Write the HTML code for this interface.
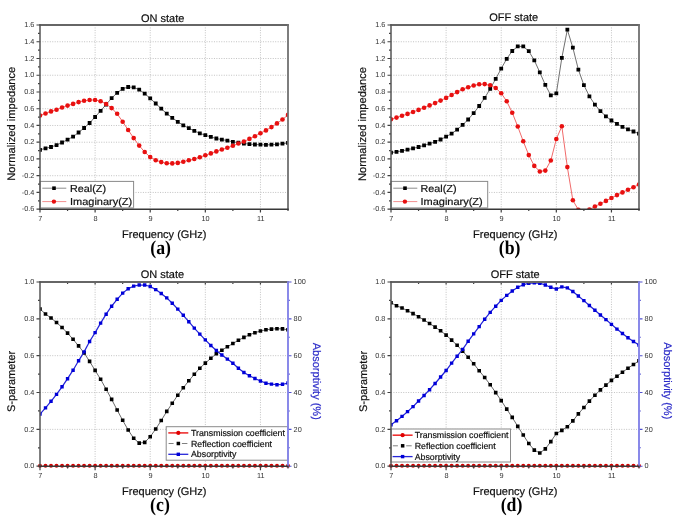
<!DOCTYPE html>
<html><head><meta charset="utf-8"><title>Figure</title>
<style>
html,body{margin:0;padding:0;background:#fff;}
body{width:675px;height:517px;overflow:hidden;font-family:"Liberation Sans", sans-serif;}
svg{display:block;filter:blur(0.3px);}
text{stroke-width:0.2px;stroke-linejoin:round;}
.tl text{stroke:none;}
text[fill="#111"],g[fill="#111"] text{stroke:#111;}
text[fill="#2b2bc8"]{stroke:#2b2bc8;}
</style></head>
<body>
<svg width="675" height="517" viewBox="0 0 675 517" text-rendering="geometricPrecision" font-family='"Liberation Sans", sans-serif'>
<rect width="675" height="517" fill="#fff"/>
<clipPath id="ca"><rect x="40" y="25" width="248" height="184.2"/></clipPath>
<path d="M95.11 25V209.2M150.22 25V209.2M205.33 25V209.2M260.44 25V209.2M40 41.75H288M40 58.49H288M40 75.24H288M40 91.98H288M40 108.73H288M40 125.47H288M40 142.22H288M40 158.96H288M40 175.71H288M40 192.45H288" stroke="#c2c2c2" stroke-width="1" stroke-dasharray="1 1.45" fill="none"/>
<g clip-path="url(#ca)">
<polyline points="40,149.9 45.51,148.3 51.02,147 56.53,145.1 62.04,142.5 67.56,139.6 73.07,136.7 78.58,132.5 84.09,128 89.6,123 95.11,117 100.62,110.8 106.13,104.5 111.64,98.2 117.15,92.8 122.67,88.8 128.18,87 133.69,87.4 139.2,89.7 144.71,93.6 150.22,98.4 155.73,103.5 161.24,108.7 166.75,113.6 172.26,117.8 177.78,121.8 183.29,125.3 188.8,128.2 194.31,130.9 199.82,133.3 205.33,135.2 210.84,136.9 216.35,138.5 221.86,139.6 227.37,140.6 232.88,141.8 238.4,142.7 243.91,143.5 249.42,144.1 254.93,144.5 260.44,144.7 265.95,144.9 271.46,144.7 276.97,144.3 282.48,143.7 288,142.9" fill="none" stroke="#707070" stroke-width="1"/>
<path d="M38.1 148h3.8v3.8h-3.8zM43.61 146.4h3.8v3.8h-3.8zM49.12 145.1h3.8v3.8h-3.8zM54.63 143.2h3.8v3.8h-3.8zM60.14 140.6h3.8v3.8h-3.8zM65.66 137.7h3.8v3.8h-3.8zM71.17 134.8h3.8v3.8h-3.8zM76.68 130.6h3.8v3.8h-3.8zM82.19 126.1h3.8v3.8h-3.8zM87.7 121.1h3.8v3.8h-3.8zM93.21 115.1h3.8v3.8h-3.8zM98.72 108.9h3.8v3.8h-3.8zM104.23 102.6h3.8v3.8h-3.8zM109.74 96.3h3.8v3.8h-3.8zM115.25 90.9h3.8v3.8h-3.8zM120.77 86.9h3.8v3.8h-3.8zM126.28 85.1h3.8v3.8h-3.8zM131.79 85.5h3.8v3.8h-3.8zM137.3 87.8h3.8v3.8h-3.8zM142.81 91.7h3.8v3.8h-3.8zM148.32 96.5h3.8v3.8h-3.8zM153.83 101.6h3.8v3.8h-3.8zM159.34 106.8h3.8v3.8h-3.8zM164.85 111.7h3.8v3.8h-3.8zM170.36 115.9h3.8v3.8h-3.8zM175.88 119.9h3.8v3.8h-3.8zM181.39 123.4h3.8v3.8h-3.8zM186.9 126.3h3.8v3.8h-3.8zM192.41 129h3.8v3.8h-3.8zM197.92 131.4h3.8v3.8h-3.8zM203.43 133.3h3.8v3.8h-3.8zM208.94 135h3.8v3.8h-3.8zM214.45 136.6h3.8v3.8h-3.8zM219.96 137.7h3.8v3.8h-3.8zM225.47 138.7h3.8v3.8h-3.8zM230.98 139.9h3.8v3.8h-3.8zM236.5 140.8h3.8v3.8h-3.8zM242.01 141.6h3.8v3.8h-3.8zM247.52 142.2h3.8v3.8h-3.8zM253.03 142.6h3.8v3.8h-3.8zM258.54 142.8h3.8v3.8h-3.8zM264.05 143h3.8v3.8h-3.8zM269.56 142.8h3.8v3.8h-3.8zM275.07 142.4h3.8v3.8h-3.8zM280.58 141.8h3.8v3.8h-3.8zM286.1 141h3.8v3.8h-3.8z" fill="#000"/>
<polyline points="40,115.5 45.51,113.5 51.02,111.4 56.53,109.7 62.04,107.5 67.56,105.6 73.07,103.9 78.58,102.1 84.09,100.8 89.6,100 95.11,100 100.62,101.2 106.13,104 111.64,108.1 117.15,113.8 122.67,121.7 128.18,130 133.69,138.1 139.2,145.6 144.71,152 150.22,157.1 155.73,160.2 161.24,162.1 166.75,163.3 172.26,163.4 177.78,162.9 183.29,161.7 188.8,160.3 194.31,159 199.82,157.3 205.33,155.3 210.84,153.4 216.35,151.4 221.86,149.5 227.37,147.8 232.88,145.8 238.4,143.5 243.91,141.6 249.42,138.9 254.93,136.2 260.44,133.3 265.95,130.4 271.46,127.1 276.97,123.4 282.48,119.5 288,114.9" fill="none" stroke="#f06a6a" stroke-width="1"/>
<circle cx="40" cy="115.5" r="2.3" fill="#e81010"/><circle cx="45.51" cy="113.5" r="2.3" fill="#e81010"/><circle cx="51.02" cy="111.4" r="2.3" fill="#e81010"/><circle cx="56.53" cy="109.7" r="2.3" fill="#e81010"/><circle cx="62.04" cy="107.5" r="2.3" fill="#e81010"/><circle cx="67.56" cy="105.6" r="2.3" fill="#e81010"/><circle cx="73.07" cy="103.9" r="2.3" fill="#e81010"/><circle cx="78.58" cy="102.1" r="2.3" fill="#e81010"/><circle cx="84.09" cy="100.8" r="2.3" fill="#e81010"/><circle cx="89.6" cy="100" r="2.3" fill="#e81010"/><circle cx="95.11" cy="100" r="2.3" fill="#e81010"/><circle cx="100.62" cy="101.2" r="2.3" fill="#e81010"/><circle cx="106.13" cy="104" r="2.3" fill="#e81010"/><circle cx="111.64" cy="108.1" r="2.3" fill="#e81010"/><circle cx="117.15" cy="113.8" r="2.3" fill="#e81010"/><circle cx="122.67" cy="121.7" r="2.3" fill="#e81010"/><circle cx="128.18" cy="130" r="2.3" fill="#e81010"/><circle cx="133.69" cy="138.1" r="2.3" fill="#e81010"/><circle cx="139.2" cy="145.6" r="2.3" fill="#e81010"/><circle cx="144.71" cy="152" r="2.3" fill="#e81010"/><circle cx="150.22" cy="157.1" r="2.3" fill="#e81010"/><circle cx="155.73" cy="160.2" r="2.3" fill="#e81010"/><circle cx="161.24" cy="162.1" r="2.3" fill="#e81010"/><circle cx="166.75" cy="163.3" r="2.3" fill="#e81010"/><circle cx="172.26" cy="163.4" r="2.3" fill="#e81010"/><circle cx="177.78" cy="162.9" r="2.3" fill="#e81010"/><circle cx="183.29" cy="161.7" r="2.3" fill="#e81010"/><circle cx="188.8" cy="160.3" r="2.3" fill="#e81010"/><circle cx="194.31" cy="159" r="2.3" fill="#e81010"/><circle cx="199.82" cy="157.3" r="2.3" fill="#e81010"/><circle cx="205.33" cy="155.3" r="2.3" fill="#e81010"/><circle cx="210.84" cy="153.4" r="2.3" fill="#e81010"/><circle cx="216.35" cy="151.4" r="2.3" fill="#e81010"/><circle cx="221.86" cy="149.5" r="2.3" fill="#e81010"/><circle cx="227.37" cy="147.8" r="2.3" fill="#e81010"/><circle cx="232.88" cy="145.8" r="2.3" fill="#e81010"/><circle cx="238.4" cy="143.5" r="2.3" fill="#e81010"/><circle cx="243.91" cy="141.6" r="2.3" fill="#e81010"/><circle cx="249.42" cy="138.9" r="2.3" fill="#e81010"/><circle cx="254.93" cy="136.2" r="2.3" fill="#e81010"/><circle cx="260.44" cy="133.3" r="2.3" fill="#e81010"/><circle cx="265.95" cy="130.4" r="2.3" fill="#e81010"/><circle cx="271.46" cy="127.1" r="2.3" fill="#e81010"/><circle cx="276.97" cy="123.4" r="2.3" fill="#e81010"/><circle cx="282.48" cy="119.5" r="2.3" fill="#e81010"/><circle cx="288" cy="114.9" r="2.3" fill="#e81010"/>
</g>
<rect x="40" y="181.4" width="93.6" height="26.4" fill="#fff" stroke="#8a8a8a" stroke-width="1"/><rect x="40" y="207.1" width="93.6" height="1.4" fill="#bdbdbd"/><path d="M42.3 188.2h24" stroke="#8c8c8c" stroke-width="1"/><rect x="52.2" y="186.4" width="3.6" height="3.6" fill="#000"/><path d="M42.3 201.6h24" stroke="#f29090" stroke-width="1"/><circle cx="53.9" cy="201.6" r="2.2" fill="#e81010"/><text x="70" y="191.6" font-size="10.2" fill="#111" textLength="36" lengthAdjust="spacingAndGlyphs">Real(Z)</text><text x="70" y="205" font-size="10.2" fill="#111" textLength="62.2" lengthAdjust="spacingAndGlyphs">Imaginary(Z)</text>
<path d="M40 209.2v3.2M67.56 209.2v1.8M95.11 209.2v3.2M122.67 209.2v1.8M150.22 209.2v3.2M177.78 209.2v1.8M205.33 209.2v3.2M232.88 209.2v1.8M260.44 209.2v3.2M288 209.2v1.8M40 25h-3.5M40 33.37h-2M40 41.75h-3.5M40 50.12h-2M40 58.49h-3.5M40 66.86h-2M40 75.24h-3.5M40 83.61h-2M40 91.98h-3.5M40 100.35h-2M40 108.73h-3.5M40 117.1h-2M40 125.47h-3.5M40 133.85h-2M40 142.22h-3.5M40 150.59h-2M40 158.96h-3.5M40 167.34h-2M40 175.71h-3.5M40 184.08h-2M40 192.45h-3.5M40 200.83h-2M40 209.2h-3.5" stroke="#404040" stroke-width="1.2" fill="none"/>
<path d="M39.2 25H288.8" stroke="#666" stroke-width="1.8" fill="none"/>
<path d="M288 24.2V210" stroke="#707070" stroke-width="1.8" fill="none"/>
<path d="M40 24.2V209.8" stroke="#555" stroke-width="1.5" fill="none"/>
<path d="M39.3 209.2H288.7" stroke="#383838" stroke-width="1.35" fill="none"/>
<g font-size="7.3" fill="#333" class="tl"><text x="34.4" y="27.2" text-anchor="end">1.6</text><text x="34.4" y="43.95" text-anchor="end">1.4</text><text x="34.4" y="60.69" text-anchor="end">1.2</text><text x="34.4" y="77.44" text-anchor="end">1.0</text><text x="34.4" y="94.18" text-anchor="end">0.8</text><text x="34.4" y="110.93" text-anchor="end">0.6</text><text x="34.4" y="127.67" text-anchor="end">0.4</text><text x="34.4" y="144.42" text-anchor="end">0.2</text><text x="34.4" y="161.16" text-anchor="end">0.0</text><text x="34.4" y="177.91" text-anchor="end">-0.2</text><text x="34.4" y="194.65" text-anchor="end">-0.4</text><text x="34.4" y="211.4" text-anchor="end">-0.6</text><text x="40.3" y="221" text-anchor="middle">7</text><text x="95.41" y="221" text-anchor="middle">8</text><text x="150.52" y="221" text-anchor="middle">9</text><text x="205.63" y="221" text-anchor="middle">10</text><text x="260.74" y="221" text-anchor="middle">11</text></g>
<clipPath id="cb"><rect x="391" y="25" width="248" height="184.2"/></clipPath>
<path d="M446.11 25V209.2M501.22 25V209.2M556.33 25V209.2M611.44 25V209.2M391 41.75H639M391 58.49H639M391 75.24H639M391 91.98H639M391 108.73H639M391 125.47H639M391 142.22H639M391 158.96H639M391 175.71H639M391 192.45H639" stroke="#c2c2c2" stroke-width="1" stroke-dasharray="1 1.45" fill="none"/>
<g clip-path="url(#cb)">
<polyline points="391,152.6 396.51,151.8 402.02,150.9 407.53,149.7 413.04,148.4 418.56,147 424.07,145.4 429.58,143.7 435.09,141.8 440.6,139.5 446.11,136.7 451.62,133.6 457.13,129.6 462.64,124.9 468.15,119.5 473.67,113.1 479.18,106 484.69,97.9 490.2,88.8 495.71,78.9 501.22,68.6 506.73,58.8 512.24,51 517.75,46.4 523.26,46.4 528.77,51.2 534.29,60.3 539.8,72.3 545.31,84.9 550.82,95.3 556.33,93.4 561.84,57.8 567.35,29.7 572.86,47.7 578.37,69.6 583.88,85.1 589.4,96.3 594.91,104.6 600.42,111.1 605.93,116.3 611.44,120.5 616.95,123.9 622.46,126.8 627.97,129.3 633.48,131.5 639,133.6" fill="none" stroke="#707070" stroke-width="1"/>
<path d="M389.1 150.7h3.8v3.8h-3.8zM394.61 149.9h3.8v3.8h-3.8zM400.12 149h3.8v3.8h-3.8zM405.63 147.8h3.8v3.8h-3.8zM411.14 146.5h3.8v3.8h-3.8zM416.66 145.1h3.8v3.8h-3.8zM422.17 143.5h3.8v3.8h-3.8zM427.68 141.8h3.8v3.8h-3.8zM433.19 139.9h3.8v3.8h-3.8zM438.7 137.6h3.8v3.8h-3.8zM444.21 134.8h3.8v3.8h-3.8zM449.72 131.7h3.8v3.8h-3.8zM455.23 127.7h3.8v3.8h-3.8zM460.74 123h3.8v3.8h-3.8zM466.25 117.6h3.8v3.8h-3.8zM471.77 111.2h3.8v3.8h-3.8zM477.28 104.1h3.8v3.8h-3.8zM482.79 96h3.8v3.8h-3.8zM488.3 86.9h3.8v3.8h-3.8zM493.81 77h3.8v3.8h-3.8zM499.32 66.7h3.8v3.8h-3.8zM504.83 56.9h3.8v3.8h-3.8zM510.34 49.1h3.8v3.8h-3.8zM515.85 44.5h3.8v3.8h-3.8zM521.36 44.5h3.8v3.8h-3.8zM526.88 49.3h3.8v3.8h-3.8zM532.39 58.4h3.8v3.8h-3.8zM537.9 70.4h3.8v3.8h-3.8zM543.41 83h3.8v3.8h-3.8zM548.92 93.4h3.8v3.8h-3.8zM554.43 91.5h3.8v3.8h-3.8zM559.94 55.9h3.8v3.8h-3.8zM565.45 27.8h3.8v3.8h-3.8zM570.96 45.8h3.8v3.8h-3.8zM576.47 67.7h3.8v3.8h-3.8zM581.99 83.2h3.8v3.8h-3.8zM587.5 94.4h3.8v3.8h-3.8zM593.01 102.7h3.8v3.8h-3.8zM598.52 109.2h3.8v3.8h-3.8zM604.03 114.4h3.8v3.8h-3.8zM609.54 118.6h3.8v3.8h-3.8zM615.05 122h3.8v3.8h-3.8zM620.56 124.9h3.8v3.8h-3.8zM626.07 127.4h3.8v3.8h-3.8zM631.58 129.6h3.8v3.8h-3.8zM637.1 131.7h3.8v3.8h-3.8z" fill="#000"/>
<polyline points="391,119.3 396.51,117.6 402.02,115.8 407.53,113.9 413.04,112 418.56,109.9 424.07,107.7 429.58,105.4 435.09,103.1 440.6,100.6 446.11,97.9 451.62,95 457.13,92.1 462.64,89.3 468.15,87.2 473.67,85.5 479.18,84.3 484.69,84.1 490.2,85.3 495.71,88 501.22,93.2 506.73,101.3 512.24,112.7 517.75,126.5 523.26,141.3 528.77,155.1 534.29,165.9 539.8,171.5 545.31,170.6 550.82,160.5 556.33,139 561.84,126.3 567.35,167.1 572.86,200.3 578.37,209.8 583.88,213 589.4,209.6 594.91,206.5 600.42,203.7 605.93,200.9 611.44,198 616.95,195.1 622.46,192.4 627.97,189.7 633.48,187.2 639,184.5" fill="none" stroke="#f06a6a" stroke-width="1"/>
<circle cx="391" cy="119.3" r="2.3" fill="#e81010"/><circle cx="396.51" cy="117.6" r="2.3" fill="#e81010"/><circle cx="402.02" cy="115.8" r="2.3" fill="#e81010"/><circle cx="407.53" cy="113.9" r="2.3" fill="#e81010"/><circle cx="413.04" cy="112" r="2.3" fill="#e81010"/><circle cx="418.56" cy="109.9" r="2.3" fill="#e81010"/><circle cx="424.07" cy="107.7" r="2.3" fill="#e81010"/><circle cx="429.58" cy="105.4" r="2.3" fill="#e81010"/><circle cx="435.09" cy="103.1" r="2.3" fill="#e81010"/><circle cx="440.6" cy="100.6" r="2.3" fill="#e81010"/><circle cx="446.11" cy="97.9" r="2.3" fill="#e81010"/><circle cx="451.62" cy="95" r="2.3" fill="#e81010"/><circle cx="457.13" cy="92.1" r="2.3" fill="#e81010"/><circle cx="462.64" cy="89.3" r="2.3" fill="#e81010"/><circle cx="468.15" cy="87.2" r="2.3" fill="#e81010"/><circle cx="473.67" cy="85.5" r="2.3" fill="#e81010"/><circle cx="479.18" cy="84.3" r="2.3" fill="#e81010"/><circle cx="484.69" cy="84.1" r="2.3" fill="#e81010"/><circle cx="490.2" cy="85.3" r="2.3" fill="#e81010"/><circle cx="495.71" cy="88" r="2.3" fill="#e81010"/><circle cx="501.22" cy="93.2" r="2.3" fill="#e81010"/><circle cx="506.73" cy="101.3" r="2.3" fill="#e81010"/><circle cx="512.24" cy="112.7" r="2.3" fill="#e81010"/><circle cx="517.75" cy="126.5" r="2.3" fill="#e81010"/><circle cx="523.26" cy="141.3" r="2.3" fill="#e81010"/><circle cx="528.77" cy="155.1" r="2.3" fill="#e81010"/><circle cx="534.29" cy="165.9" r="2.3" fill="#e81010"/><circle cx="539.8" cy="171.5" r="2.3" fill="#e81010"/><circle cx="545.31" cy="170.6" r="2.3" fill="#e81010"/><circle cx="550.82" cy="160.5" r="2.3" fill="#e81010"/><circle cx="556.33" cy="139" r="2.3" fill="#e81010"/><circle cx="561.84" cy="126.3" r="2.3" fill="#e81010"/><circle cx="567.35" cy="167.1" r="2.3" fill="#e81010"/><circle cx="572.86" cy="200.3" r="2.3" fill="#e81010"/><circle cx="578.37" cy="209.8" r="2.3" fill="#e81010"/><circle cx="583.88" cy="213" r="2.3" fill="#e81010"/><circle cx="589.4" cy="209.6" r="2.3" fill="#e81010"/><circle cx="594.91" cy="206.5" r="2.3" fill="#e81010"/><circle cx="600.42" cy="203.7" r="2.3" fill="#e81010"/><circle cx="605.93" cy="200.9" r="2.3" fill="#e81010"/><circle cx="611.44" cy="198" r="2.3" fill="#e81010"/><circle cx="616.95" cy="195.1" r="2.3" fill="#e81010"/><circle cx="622.46" cy="192.4" r="2.3" fill="#e81010"/><circle cx="627.97" cy="189.7" r="2.3" fill="#e81010"/><circle cx="633.48" cy="187.2" r="2.3" fill="#e81010"/><circle cx="639" cy="184.5" r="2.3" fill="#e81010"/>
</g>
<rect x="391" y="181.4" width="96.7" height="26.4" fill="#fff" stroke="#8a8a8a" stroke-width="1"/><rect x="391" y="207.1" width="96.7" height="1.4" fill="#bdbdbd"/><path d="M393.3 188.2h24" stroke="#8c8c8c" stroke-width="1"/><rect x="403.2" y="186.4" width="3.6" height="3.6" fill="#000"/><path d="M393.3 201.6h24" stroke="#f29090" stroke-width="1"/><circle cx="404.9" cy="201.6" r="2.2" fill="#e81010"/><text x="420.5" y="191.6" font-size="10.2" fill="#111" textLength="36" lengthAdjust="spacingAndGlyphs">Real(Z)</text><text x="420.5" y="205" font-size="10.2" fill="#111" textLength="62.2" lengthAdjust="spacingAndGlyphs">Imaginary(Z)</text>
<path d="M391 209.2v3.2M418.56 209.2v1.8M446.11 209.2v3.2M473.67 209.2v1.8M501.22 209.2v3.2M528.77 209.2v1.8M556.33 209.2v3.2M583.88 209.2v1.8M611.44 209.2v3.2M639 209.2v1.8M391 25h-3.5M391 33.37h-2M391 41.75h-3.5M391 50.12h-2M391 58.49h-3.5M391 66.86h-2M391 75.24h-3.5M391 83.61h-2M391 91.98h-3.5M391 100.35h-2M391 108.73h-3.5M391 117.1h-2M391 125.47h-3.5M391 133.85h-2M391 142.22h-3.5M391 150.59h-2M391 158.96h-3.5M391 167.34h-2M391 175.71h-3.5M391 184.08h-2M391 192.45h-3.5M391 200.83h-2M391 209.2h-3.5" stroke="#404040" stroke-width="1.2" fill="none"/>
<path d="M390.2 25H639.8" stroke="#666" stroke-width="1.8" fill="none"/>
<path d="M639 24.2V210" stroke="#707070" stroke-width="1.8" fill="none"/>
<path d="M391 24.2V209.8" stroke="#555" stroke-width="1.5" fill="none"/>
<path d="M390.3 209.2H639.7" stroke="#383838" stroke-width="1.35" fill="none"/>
<g font-size="7.3" fill="#333" class="tl"><text x="385.4" y="27.2" text-anchor="end">1.6</text><text x="385.4" y="43.95" text-anchor="end">1.4</text><text x="385.4" y="60.69" text-anchor="end">1.2</text><text x="385.4" y="77.44" text-anchor="end">1.0</text><text x="385.4" y="94.18" text-anchor="end">0.8</text><text x="385.4" y="110.93" text-anchor="end">0.6</text><text x="385.4" y="127.67" text-anchor="end">0.4</text><text x="385.4" y="144.42" text-anchor="end">0.2</text><text x="385.4" y="161.16" text-anchor="end">0.0</text><text x="385.4" y="177.91" text-anchor="end">-0.2</text><text x="385.4" y="194.65" text-anchor="end">-0.4</text><text x="385.4" y="211.4" text-anchor="end">-0.6</text><text x="391.3" y="221" text-anchor="middle">7</text><text x="446.41" y="221" text-anchor="middle">8</text><text x="501.52" y="221" text-anchor="middle">9</text><text x="556.63" y="221" text-anchor="middle">10</text><text x="611.74" y="221" text-anchor="middle">11</text></g>
<clipPath id="cc"><rect x="40" y="282" width="248" height="184.2"/></clipPath>
<path d="M95.11 282V466.2M150.22 282V466.2M205.33 282V466.2M260.44 282V466.2M40 318.84H288M40 355.68H288M40 392.52H288M40 429.36H288" stroke="#c2c2c2" stroke-width="1" stroke-dasharray="1 1.45" fill="none"/>
<g clip-path="url(#cc)">
<polyline points="40,309 45.51,314 51.02,318 56.53,322.5 62.04,327.5 67.56,333.1 73.07,339.3 78.58,345.9 84.09,352.9 89.6,361.4 95.11,370.4 100.62,379.3 106.13,389.2 111.64,399.4 117.15,410 122.67,420.3 128.18,430 133.69,438.3 139.2,443.1 144.71,442.4 150.22,436.7 155.73,429 161.24,420.5 166.75,411.4 172.26,403.3 177.78,395.2 183.29,387.8 188.8,380.8 194.31,374.3 199.82,368.2 205.33,363.1 210.84,358.3 216.35,353.8 221.86,350.2 227.37,346.8 232.88,343.5 238.4,340.3 243.91,337.4 249.42,334.8 254.93,332.7 260.44,331 265.95,329.8 271.46,329.1 276.97,328.7 282.48,328.9 288,329.8" fill="none" stroke="#6a6a6a" stroke-width="1"/>
<path d="M38.2 307.2h3.6v3.6h-3.6zM43.71 312.2h3.6v3.6h-3.6zM49.22 316.2h3.6v3.6h-3.6zM54.73 320.7h3.6v3.6h-3.6zM60.24 325.7h3.6v3.6h-3.6zM65.76 331.3h3.6v3.6h-3.6zM71.27 337.5h3.6v3.6h-3.6zM76.78 344.1h3.6v3.6h-3.6zM82.29 351.1h3.6v3.6h-3.6zM87.8 359.6h3.6v3.6h-3.6zM93.31 368.6h3.6v3.6h-3.6zM98.82 377.5h3.6v3.6h-3.6zM104.33 387.4h3.6v3.6h-3.6zM109.84 397.6h3.6v3.6h-3.6zM115.35 408.2h3.6v3.6h-3.6zM120.87 418.5h3.6v3.6h-3.6zM126.38 428.2h3.6v3.6h-3.6zM131.89 436.5h3.6v3.6h-3.6zM137.4 441.3h3.6v3.6h-3.6zM142.91 440.6h3.6v3.6h-3.6zM148.42 434.9h3.6v3.6h-3.6zM153.93 427.2h3.6v3.6h-3.6zM159.44 418.7h3.6v3.6h-3.6zM164.95 409.6h3.6v3.6h-3.6zM170.46 401.5h3.6v3.6h-3.6zM175.97 393.4h3.6v3.6h-3.6zM181.49 386h3.6v3.6h-3.6zM187 379h3.6v3.6h-3.6zM192.51 372.5h3.6v3.6h-3.6zM198.02 366.4h3.6v3.6h-3.6zM203.53 361.3h3.6v3.6h-3.6zM209.04 356.5h3.6v3.6h-3.6zM214.55 352h3.6v3.6h-3.6zM220.06 348.4h3.6v3.6h-3.6zM225.57 345h3.6v3.6h-3.6zM231.08 341.7h3.6v3.6h-3.6zM236.6 338.5h3.6v3.6h-3.6zM242.11 335.6h3.6v3.6h-3.6zM247.62 333h3.6v3.6h-3.6zM253.13 330.9h3.6v3.6h-3.6zM258.64 329.2h3.6v3.6h-3.6zM264.15 328h3.6v3.6h-3.6zM269.66 327.3h3.6v3.6h-3.6zM275.17 326.9h3.6v3.6h-3.6zM280.68 327.1h3.6v3.6h-3.6zM286.19 328h3.6v3.6h-3.6z" fill="#000"/>
<polyline points="40,414.1 45.51,407.9 51.02,401.3 56.53,394.4 62.04,386.8 67.56,378.7 73.07,370.2 78.58,360.8 84.09,351.9 89.6,341.5 95.11,332.6 100.62,323.1 106.13,314.2 111.64,306.2 117.15,299.3 122.67,293.1 128.18,288.8 133.69,286.1 139.2,285 144.71,285 150.22,286.5 155.73,289.6 161.24,293.5 166.75,297.9 172.26,303.3 177.78,309.1 183.29,315.3 188.8,321.7 194.31,328.1 199.82,334.1 205.33,339.9 210.84,345.5 216.35,350.5 221.86,355 227.37,359.1 232.88,363.3 238.4,368.2 243.91,372.5 249.42,375.7 254.93,378.5 260.44,381 265.95,383.2 271.46,384.1 276.97,384.7 282.48,384.3 288,383" fill="none" stroke="#2626d8" stroke-width="1.25"/>
<path d="M38.3 412.4h3.4v3.4h-3.4zM43.81 406.2h3.4v3.4h-3.4zM49.32 399.6h3.4v3.4h-3.4zM54.83 392.7h3.4v3.4h-3.4zM60.34 385.1h3.4v3.4h-3.4zM65.86 377h3.4v3.4h-3.4zM71.37 368.5h3.4v3.4h-3.4zM76.88 359.1h3.4v3.4h-3.4zM82.39 350.2h3.4v3.4h-3.4zM87.9 339.8h3.4v3.4h-3.4zM93.41 330.9h3.4v3.4h-3.4zM98.92 321.4h3.4v3.4h-3.4zM104.43 312.5h3.4v3.4h-3.4zM109.94 304.5h3.4v3.4h-3.4zM115.45 297.6h3.4v3.4h-3.4zM120.97 291.4h3.4v3.4h-3.4zM126.48 287.1h3.4v3.4h-3.4zM131.99 284.4h3.4v3.4h-3.4zM137.5 283.3h3.4v3.4h-3.4zM143.01 283.3h3.4v3.4h-3.4zM148.52 284.8h3.4v3.4h-3.4zM154.03 287.9h3.4v3.4h-3.4zM159.54 291.8h3.4v3.4h-3.4zM165.05 296.2h3.4v3.4h-3.4zM170.56 301.6h3.4v3.4h-3.4zM176.08 307.4h3.4v3.4h-3.4zM181.59 313.6h3.4v3.4h-3.4zM187.1 320h3.4v3.4h-3.4zM192.61 326.4h3.4v3.4h-3.4zM198.12 332.4h3.4v3.4h-3.4zM203.63 338.2h3.4v3.4h-3.4zM209.14 343.8h3.4v3.4h-3.4zM214.65 348.8h3.4v3.4h-3.4zM220.16 353.3h3.4v3.4h-3.4zM225.67 357.4h3.4v3.4h-3.4zM231.19 361.6h3.4v3.4h-3.4zM236.7 366.5h3.4v3.4h-3.4zM242.21 370.8h3.4v3.4h-3.4zM247.72 374h3.4v3.4h-3.4zM253.23 376.8h3.4v3.4h-3.4zM258.74 379.3h3.4v3.4h-3.4zM264.25 381.5h3.4v3.4h-3.4zM269.76 382.4h3.4v3.4h-3.4zM275.27 383h3.4v3.4h-3.4zM280.78 382.6h3.4v3.4h-3.4zM286.3 381.3h3.4v3.4h-3.4z" fill="#0000d8"/>
</g>
<circle cx="40" cy="465.8" r="2" fill="#d80000"/><circle cx="45.51" cy="465.8" r="2" fill="#d80000"/><circle cx="51.02" cy="465.8" r="2" fill="#d80000"/><circle cx="56.53" cy="465.8" r="2" fill="#d80000"/><circle cx="62.04" cy="465.8" r="2" fill="#d80000"/><circle cx="67.56" cy="465.8" r="2" fill="#d80000"/><circle cx="73.07" cy="465.8" r="2" fill="#d80000"/><circle cx="78.58" cy="465.8" r="2" fill="#d80000"/><circle cx="84.09" cy="465.8" r="2" fill="#d80000"/><circle cx="89.6" cy="465.8" r="2" fill="#d80000"/><circle cx="95.11" cy="465.8" r="2" fill="#d80000"/><circle cx="100.62" cy="465.8" r="2" fill="#d80000"/><circle cx="106.13" cy="465.8" r="2" fill="#d80000"/><circle cx="111.64" cy="465.8" r="2" fill="#d80000"/><circle cx="117.15" cy="465.8" r="2" fill="#d80000"/><circle cx="122.67" cy="465.8" r="2" fill="#d80000"/><circle cx="128.18" cy="465.8" r="2" fill="#d80000"/><circle cx="133.69" cy="465.8" r="2" fill="#d80000"/><circle cx="139.2" cy="465.8" r="2" fill="#d80000"/><circle cx="144.71" cy="465.8" r="2" fill="#d80000"/><circle cx="150.22" cy="465.8" r="2" fill="#d80000"/><circle cx="155.73" cy="465.8" r="2" fill="#d80000"/><circle cx="161.24" cy="465.8" r="2" fill="#d80000"/><circle cx="166.75" cy="465.8" r="2" fill="#d80000"/><circle cx="172.26" cy="465.8" r="2" fill="#d80000"/><circle cx="177.78" cy="465.8" r="2" fill="#d80000"/><circle cx="183.29" cy="465.8" r="2" fill="#d80000"/><circle cx="188.8" cy="465.8" r="2" fill="#d80000"/><circle cx="194.31" cy="465.8" r="2" fill="#d80000"/><circle cx="199.82" cy="465.8" r="2" fill="#d80000"/><circle cx="205.33" cy="465.8" r="2" fill="#d80000"/><circle cx="210.84" cy="465.8" r="2" fill="#d80000"/><circle cx="216.35" cy="465.8" r="2" fill="#d80000"/><circle cx="221.86" cy="465.8" r="2" fill="#d80000"/><circle cx="227.37" cy="465.8" r="2" fill="#d80000"/><circle cx="232.88" cy="465.8" r="2" fill="#d80000"/><circle cx="238.4" cy="465.8" r="2" fill="#d80000"/><circle cx="243.91" cy="465.8" r="2" fill="#d80000"/><circle cx="249.42" cy="465.8" r="2" fill="#d80000"/><circle cx="254.93" cy="465.8" r="2" fill="#d80000"/><circle cx="260.44" cy="465.8" r="2" fill="#d80000"/><circle cx="265.95" cy="465.8" r="2" fill="#d80000"/><circle cx="271.46" cy="465.8" r="2" fill="#d80000"/><circle cx="276.97" cy="465.8" r="2" fill="#d80000"/><circle cx="282.48" cy="465.8" r="2" fill="#d80000"/><circle cx="288" cy="465.8" r="2" fill="#d80000"/>
<rect x="166.2" y="426.7" width="121.8" height="33.5" fill="#fff" stroke="#8a8a8a" stroke-width="1"/><path d="M168.3 432.9h20" stroke="#ee3030" stroke-width="1.6"/><circle cx="178.3" cy="432.9" r="2.1" fill="#e00000"/><path d="M168.6 443.5h5M181.9 443.5h5.5" stroke="#808080" stroke-width="1"/><rect x="176.6" y="441.75" width="3.5" height="3.5" fill="#000"/><path d="M168.3 454.3h20" stroke="#2626d8" stroke-width="1.3"/><rect x="176.6" y="452.6" width="3.4" height="3.4" fill="#0000d8"/><g font-size="8.8" fill="#111"><text x="191" y="436">Transmission coefficient</text><text x="191" y="446.6">Reflection coefficient</text><text x="191" y="457.4">Absorptivity</text></g>
<path d="M40 466.2v4M67.56 466.2v2.4M67.56 282v2M95.11 466.2v4M95.11 282v2.6M122.67 466.2v2.4M122.67 282v2M150.22 466.2v4M150.22 282v2.6M177.78 466.2v2.4M177.78 282v2M205.33 466.2v4M205.33 282v2.6M232.88 466.2v2.4M232.88 282v2M260.44 466.2v4M260.44 282v2.6M288 466.2v2.4M288 282v2M40 282h-3.5M40 300.42h-2M40 318.84h-3.5M40 337.26h-2M40 355.68h-3.5M40 374.1h-2M40 392.52h-3.5M40 410.94h-2M40 429.36h-3.5M40 447.78h-2M40 466.2h-3.5" stroke="#404040" stroke-width="1.2" fill="none"/>
<path d="M288 282h3.5M288 300.42h1.8M288 318.84h3.5M288 337.26h1.8M288 355.68h3.5M288 374.1h1.8M288 392.52h3.5M288 410.94h1.8M288 429.36h3.5M288 447.78h1.8M288 466.2h3.5" stroke="#5050d0" stroke-width="1.1" fill="none"/>
<path d="M39.2 282H288.8" stroke="#666" stroke-width="1.8" fill="none"/>
<path d="M288 281.2V467" stroke="#8484e8" stroke-width="1.9" fill="none"/>
<path d="M40 281.2V466.8" stroke="#555" stroke-width="1.5" fill="none"/>
<path d="M39.3 466.2H288.7" stroke="#383838" stroke-width="1.35" fill="none"/>
<g font-size="7.3" fill="#333" class="tl"><text x="34.4" y="284.2" text-anchor="end">1.0</text><text x="34.4" y="321.04" text-anchor="end">0.8</text><text x="34.4" y="357.88" text-anchor="end">0.6</text><text x="34.4" y="394.72" text-anchor="end">0.4</text><text x="34.4" y="431.56" text-anchor="end">0.2</text><text x="34.4" y="468.4" text-anchor="end">0.0</text><text x="40.3" y="478" text-anchor="middle">7</text><text x="95.41" y="478" text-anchor="middle">8</text><text x="150.52" y="478" text-anchor="middle">9</text><text x="205.63" y="478" text-anchor="middle">10</text><text x="260.74" y="478" text-anchor="middle">11</text><text x="293.6" y="284.2">100</text><text x="293.6" y="321.04">80</text><text x="293.6" y="357.88">60</text><text x="293.6" y="394.72">40</text><text x="293.6" y="431.56">20</text><text x="293.6" y="468.4">0</text></g>
<clipPath id="cd"><rect x="391" y="282" width="248" height="184.2"/></clipPath>
<path d="M446.11 282V466.2M501.22 282V466.2M556.33 282V466.2M611.44 282V466.2M391 318.84H639M391 355.68H639M391 392.52H639M391 429.36H639" stroke="#c2c2c2" stroke-width="1" stroke-dasharray="1 1.45" fill="none"/>
<g clip-path="url(#cd)">
<polyline points="391,302.8 396.51,305.7 402.02,308 407.53,310.7 413.04,313.6 418.56,316.7 424.07,320 429.58,323.5 435.09,327.1 440.6,330.8 446.11,335.1 451.62,340.1 457.13,345.3 462.64,351.1 468.15,357.3 473.67,363.7 479.18,370.7 484.69,377.5 490.2,384.7 495.71,392.6 501.22,400.6 506.73,409.1 512.24,417.4 517.75,426.4 523.26,435 528.77,443.5 534.29,450.1 539.8,453 545.31,448.9 550.82,441.6 556.33,433.5 561.84,430.4 567.35,426.7 572.86,420.9 578.37,413.9 583.88,407.5 589.4,401.1 594.91,395.3 600.42,389.9 605.93,385.1 611.44,380.4 616.95,376.3 622.46,372.2 627.97,368.2 633.48,364.5 639,360.8" fill="none" stroke="#6a6a6a" stroke-width="1"/>
<path d="M389.2 301h3.6v3.6h-3.6zM394.71 303.9h3.6v3.6h-3.6zM400.22 306.2h3.6v3.6h-3.6zM405.73 308.9h3.6v3.6h-3.6zM411.24 311.8h3.6v3.6h-3.6zM416.75 314.9h3.6v3.6h-3.6zM422.27 318.2h3.6v3.6h-3.6zM427.78 321.7h3.6v3.6h-3.6zM433.29 325.3h3.6v3.6h-3.6zM438.8 329h3.6v3.6h-3.6zM444.31 333.3h3.6v3.6h-3.6zM449.82 338.3h3.6v3.6h-3.6zM455.33 343.5h3.6v3.6h-3.6zM460.84 349.3h3.6v3.6h-3.6zM466.35 355.5h3.6v3.6h-3.6zM471.87 361.9h3.6v3.6h-3.6zM477.38 368.9h3.6v3.6h-3.6zM482.89 375.7h3.6v3.6h-3.6zM488.4 382.9h3.6v3.6h-3.6zM493.91 390.8h3.6v3.6h-3.6zM499.42 398.8h3.6v3.6h-3.6zM504.93 407.3h3.6v3.6h-3.6zM510.44 415.6h3.6v3.6h-3.6zM515.95 424.6h3.6v3.6h-3.6zM521.46 433.2h3.6v3.6h-3.6zM526.98 441.7h3.6v3.6h-3.6zM532.49 448.3h3.6v3.6h-3.6zM538 451.2h3.6v3.6h-3.6zM543.51 447.1h3.6v3.6h-3.6zM549.02 439.8h3.6v3.6h-3.6zM554.53 431.7h3.6v3.6h-3.6zM560.04 428.6h3.6v3.6h-3.6zM565.55 424.9h3.6v3.6h-3.6zM571.06 419.1h3.6v3.6h-3.6zM576.57 412.1h3.6v3.6h-3.6zM582.09 405.7h3.6v3.6h-3.6zM587.6 399.3h3.6v3.6h-3.6zM593.11 393.5h3.6v3.6h-3.6zM598.62 388.1h3.6v3.6h-3.6zM604.13 383.3h3.6v3.6h-3.6zM609.64 378.6h3.6v3.6h-3.6zM615.15 374.5h3.6v3.6h-3.6zM620.66 370.4h3.6v3.6h-3.6zM626.17 366.4h3.6v3.6h-3.6zM631.68 362.7h3.6v3.6h-3.6zM637.2 359h3.6v3.6h-3.6z" fill="#000"/>
<polyline points="391,424.8 396.51,420.7 402.02,416.4 407.53,411.6 413.04,406.6 418.56,401 424.07,395.5 429.58,389.7 435.09,383.5 440.6,377 446.11,370.5 451.62,363.1 457.13,356.2 462.64,349.4 468.15,341.3 473.67,333.9 479.18,326.6 484.69,319.2 490.2,312.4 495.71,306.2 501.22,300.4 506.73,295.4 512.24,291 517.75,287.3 523.26,284.8 528.77,283.2 534.29,282.8 539.8,283.2 545.31,285 550.82,287.3 556.33,289 561.84,286.9 567.35,287.9 572.86,291.5 578.37,296 583.88,300.6 589.4,305.5 594.91,310.3 600.42,315 605.93,319.6 611.44,324.4 616.95,329.1 622.46,333.5 627.97,337.8 633.48,341.5 639,345.1" fill="none" stroke="#2626d8" stroke-width="1.25"/>
<path d="M389.3 423.1h3.4v3.4h-3.4zM394.81 419h3.4v3.4h-3.4zM400.32 414.7h3.4v3.4h-3.4zM405.83 409.9h3.4v3.4h-3.4zM411.34 404.9h3.4v3.4h-3.4zM416.86 399.3h3.4v3.4h-3.4zM422.37 393.8h3.4v3.4h-3.4zM427.88 388h3.4v3.4h-3.4zM433.39 381.8h3.4v3.4h-3.4zM438.9 375.3h3.4v3.4h-3.4zM444.41 368.8h3.4v3.4h-3.4zM449.92 361.4h3.4v3.4h-3.4zM455.43 354.5h3.4v3.4h-3.4zM460.94 347.7h3.4v3.4h-3.4zM466.45 339.6h3.4v3.4h-3.4zM471.97 332.2h3.4v3.4h-3.4zM477.48 324.9h3.4v3.4h-3.4zM482.99 317.5h3.4v3.4h-3.4zM488.5 310.7h3.4v3.4h-3.4zM494.01 304.5h3.4v3.4h-3.4zM499.52 298.7h3.4v3.4h-3.4zM505.03 293.7h3.4v3.4h-3.4zM510.54 289.3h3.4v3.4h-3.4zM516.05 285.6h3.4v3.4h-3.4zM521.56 283.1h3.4v3.4h-3.4zM527.07 281.5h3.4v3.4h-3.4zM532.59 281.1h3.4v3.4h-3.4zM538.1 281.5h3.4v3.4h-3.4zM543.61 283.3h3.4v3.4h-3.4zM549.12 285.6h3.4v3.4h-3.4zM554.63 287.3h3.4v3.4h-3.4zM560.14 285.2h3.4v3.4h-3.4zM565.65 286.2h3.4v3.4h-3.4zM571.16 289.8h3.4v3.4h-3.4zM576.67 294.3h3.4v3.4h-3.4zM582.18 298.9h3.4v3.4h-3.4zM587.7 303.8h3.4v3.4h-3.4zM593.21 308.6h3.4v3.4h-3.4zM598.72 313.3h3.4v3.4h-3.4zM604.23 317.9h3.4v3.4h-3.4zM609.74 322.7h3.4v3.4h-3.4zM615.25 327.4h3.4v3.4h-3.4zM620.76 331.8h3.4v3.4h-3.4zM626.27 336.1h3.4v3.4h-3.4zM631.78 339.8h3.4v3.4h-3.4zM637.29 343.4h3.4v3.4h-3.4z" fill="#0000d8"/>
</g>
<circle cx="391" cy="465.8" r="2" fill="#d80000"/><circle cx="396.51" cy="465.8" r="2" fill="#d80000"/><circle cx="402.02" cy="465.8" r="2" fill="#d80000"/><circle cx="407.53" cy="465.8" r="2" fill="#d80000"/><circle cx="413.04" cy="465.8" r="2" fill="#d80000"/><circle cx="418.56" cy="465.8" r="2" fill="#d80000"/><circle cx="424.07" cy="465.8" r="2" fill="#d80000"/><circle cx="429.58" cy="465.8" r="2" fill="#d80000"/><circle cx="435.09" cy="465.8" r="2" fill="#d80000"/><circle cx="440.6" cy="465.8" r="2" fill="#d80000"/><circle cx="446.11" cy="465.8" r="2" fill="#d80000"/><circle cx="451.62" cy="465.8" r="2" fill="#d80000"/><circle cx="457.13" cy="465.8" r="2" fill="#d80000"/><circle cx="462.64" cy="465.8" r="2" fill="#d80000"/><circle cx="468.15" cy="465.8" r="2" fill="#d80000"/><circle cx="473.67" cy="465.8" r="2" fill="#d80000"/><circle cx="479.18" cy="465.8" r="2" fill="#d80000"/><circle cx="484.69" cy="465.8" r="2" fill="#d80000"/><circle cx="490.2" cy="465.8" r="2" fill="#d80000"/><circle cx="495.71" cy="465.8" r="2" fill="#d80000"/><circle cx="501.22" cy="465.8" r="2" fill="#d80000"/><circle cx="506.73" cy="465.8" r="2" fill="#d80000"/><circle cx="512.24" cy="465.8" r="2" fill="#d80000"/><circle cx="517.75" cy="465.8" r="2" fill="#d80000"/><circle cx="523.26" cy="465.8" r="2" fill="#d80000"/><circle cx="528.77" cy="465.8" r="2" fill="#d80000"/><circle cx="534.29" cy="465.8" r="2" fill="#d80000"/><circle cx="539.8" cy="465.8" r="2" fill="#d80000"/><circle cx="545.31" cy="465.8" r="2" fill="#d80000"/><circle cx="550.82" cy="465.8" r="2" fill="#d80000"/><circle cx="556.33" cy="465.8" r="2" fill="#d80000"/><circle cx="561.84" cy="465.8" r="2" fill="#d80000"/><circle cx="567.35" cy="465.8" r="2" fill="#d80000"/><circle cx="572.86" cy="465.8" r="2" fill="#d80000"/><circle cx="578.37" cy="465.8" r="2" fill="#d80000"/><circle cx="583.88" cy="465.8" r="2" fill="#d80000"/><circle cx="589.4" cy="465.8" r="2" fill="#d80000"/><circle cx="594.91" cy="465.8" r="2" fill="#d80000"/><circle cx="600.42" cy="465.8" r="2" fill="#d80000"/><circle cx="605.93" cy="465.8" r="2" fill="#d80000"/><circle cx="611.44" cy="465.8" r="2" fill="#d80000"/><circle cx="616.95" cy="465.8" r="2" fill="#d80000"/><circle cx="622.46" cy="465.8" r="2" fill="#d80000"/><circle cx="627.97" cy="465.8" r="2" fill="#d80000"/><circle cx="633.48" cy="465.8" r="2" fill="#d80000"/><circle cx="639" cy="465.8" r="2" fill="#d80000"/>
<rect x="391" y="429" width="119.5" height="33" fill="#fff" stroke="#8a8a8a" stroke-width="1"/><path d="M392.6 435.2h20" stroke="#ee3030" stroke-width="1.6"/><circle cx="402.6" cy="435.2" r="2.1" fill="#e00000"/><path d="M392.9 445.8h5M406.2 445.8h5.5" stroke="#808080" stroke-width="1"/><rect x="400.9" y="444.05" width="3.5" height="3.5" fill="#000"/><path d="M392.6 456.6h20" stroke="#2626d8" stroke-width="1.3"/><rect x="400.9" y="454.9" width="3.4" height="3.4" fill="#0000d8"/><g font-size="8.8" fill="#111"><text x="414.7" y="438.3">Transmission coefficient</text><text x="414.7" y="448.9">Reflection coefficient</text><text x="414.7" y="459.7">Absorptivity</text></g>
<path d="M391 466.2v4M418.56 466.2v2.4M418.56 282v2M446.11 466.2v4M446.11 282v2.6M473.67 466.2v2.4M473.67 282v2M501.22 466.2v4M501.22 282v2.6M528.77 466.2v2.4M528.77 282v2M556.33 466.2v4M556.33 282v2.6M583.88 466.2v2.4M583.88 282v2M611.44 466.2v4M611.44 282v2.6M639 466.2v2.4M639 282v2M391 282h-3.5M391 300.42h-2M391 318.84h-3.5M391 337.26h-2M391 355.68h-3.5M391 374.1h-2M391 392.52h-3.5M391 410.94h-2M391 429.36h-3.5M391 447.78h-2M391 466.2h-3.5" stroke="#404040" stroke-width="1.2" fill="none"/>
<path d="M639 282h3.5M639 300.42h1.8M639 318.84h3.5M639 337.26h1.8M639 355.68h3.5M639 374.1h1.8M639 392.52h3.5M639 410.94h1.8M639 429.36h3.5M639 447.78h1.8M639 466.2h3.5" stroke="#5050d0" stroke-width="1.1" fill="none"/>
<path d="M390.2 282H639.8" stroke="#666" stroke-width="1.8" fill="none"/>
<path d="M639 281.2V467" stroke="#8484e8" stroke-width="1.9" fill="none"/>
<path d="M391 281.2V466.8" stroke="#555" stroke-width="1.5" fill="none"/>
<path d="M390.3 466.2H639.7" stroke="#383838" stroke-width="1.35" fill="none"/>
<g font-size="7.3" fill="#333" class="tl"><text x="385.4" y="284.2" text-anchor="end">1.0</text><text x="385.4" y="321.04" text-anchor="end">0.8</text><text x="385.4" y="357.88" text-anchor="end">0.6</text><text x="385.4" y="394.72" text-anchor="end">0.4</text><text x="385.4" y="431.56" text-anchor="end">0.2</text><text x="385.4" y="468.4" text-anchor="end">0.0</text><text x="391.3" y="478" text-anchor="middle">7</text><text x="446.41" y="478" text-anchor="middle">8</text><text x="501.52" y="478" text-anchor="middle">9</text><text x="556.63" y="478" text-anchor="middle">10</text><text x="611.74" y="478" text-anchor="middle">11</text><text x="644.6" y="284.2">100</text><text x="644.6" y="321.04">80</text><text x="644.6" y="357.88">60</text><text x="644.6" y="394.72">40</text><text x="644.6" y="431.56">20</text><text x="644.6" y="468.4">0</text></g>
<text x="141" y="21.9" font-size="11" fill="#111">ON state</text>
<text x="489.3" y="20.9" font-size="11" fill="#111">OFF state</text>
<text x="140.7" y="278.1" font-size="11" fill="#111">ON state</text>
<text x="490.7" y="278.1" font-size="11" fill="#111">OFF state</text>
<text x="164.3" y="237.6" font-size="11" fill="#111" text-anchor="middle">Frequency (GHz)</text>
<text x="515.3" y="237.6" font-size="11" fill="#111" text-anchor="middle">Frequency (GHz)</text>
<text x="164.3" y="494.8" font-size="11" fill="#111" text-anchor="middle">Frequency (GHz)</text>
<text x="515.3" y="494.8" font-size="11" fill="#111" text-anchor="middle">Frequency (GHz)</text>
<text transform="translate(14.8 123.7) rotate(-90)" font-size="11" fill="#111" text-anchor="middle" textLength="114" lengthAdjust="spacingAndGlyphs">Normalized impedance</text>
<text transform="translate(365.8 124) rotate(-90)" font-size="11" fill="#111" text-anchor="middle" textLength="114" lengthAdjust="spacingAndGlyphs">Normalized impedance</text>
<text transform="translate(14.8 381.4) rotate(-90)" font-size="11" fill="#111" text-anchor="middle">S-parameter</text>
<text transform="translate(366.6 381.4) rotate(-90)" font-size="11" fill="#111" text-anchor="middle">S-parameter</text>
<text transform="translate(313.2 381.3) rotate(90)" font-size="11" fill="#2b2bc8" text-anchor="middle">Absorptivity (%)</text>
<text transform="translate(664.2 380.8) rotate(90)" font-size="11" fill="#2b2bc8" text-anchor="middle">Absorptivity (%)</text>
<text transform="translate(150.3 254.1) scale(1 1.1)" font-family='"Liberation Serif", serif' font-weight="bold" font-size="17.8" fill="#000">(a)</text>
<text transform="translate(498.8 254.2) scale(1 1.1)" font-family='"Liberation Serif", serif' font-weight="bold" font-size="17.8" fill="#000">(b)</text>
<text transform="translate(150.1 511.1) scale(1 1.1)" font-family='"Liberation Serif", serif' font-weight="bold" font-size="17.8" fill="#000">(c)</text>
<text transform="translate(500.7 511.1) scale(1 1.1)" font-family='"Liberation Serif", serif' font-weight="bold" font-size="17.8" fill="#000">(d)</text>
</svg>
</body></html>
